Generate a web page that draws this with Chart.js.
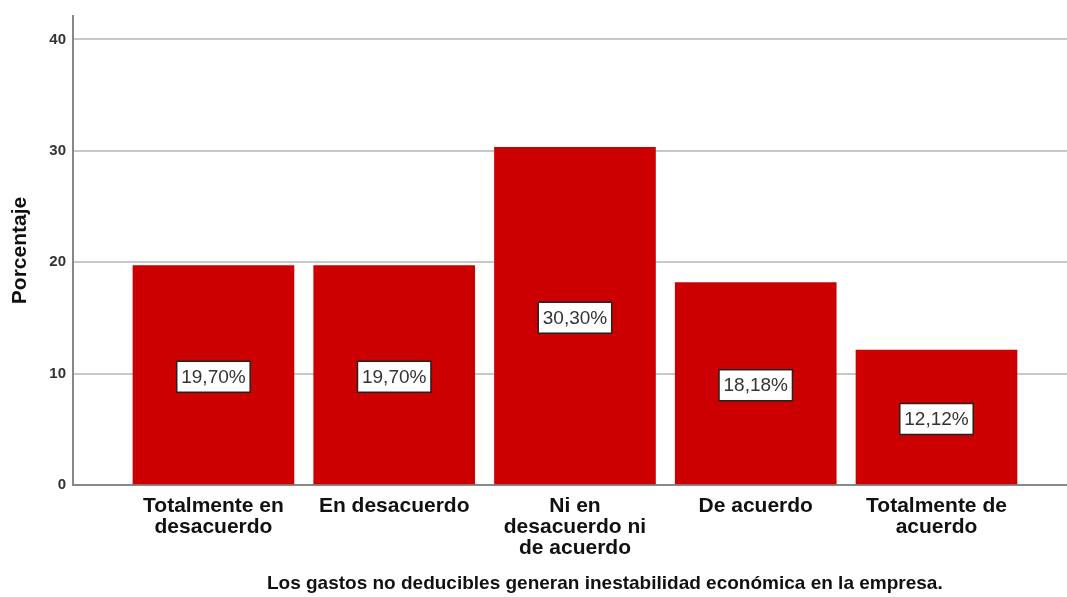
<!DOCTYPE html>
<html>
<head>
<meta charset="utf-8">
<script src="https://cdn.jsdelivr.net/npm/chart.js@4"></script>
<style>
  body { margin: 0; background: #fff; }
  #wrap { width: 1067px; height: 597px; }
</style>
</head>
<body>
<div id="wrap"><canvas id="grafico" width="1067" height="597"></canvas></div>
<script>
// categorias do eixo x (cada uma quebrada em linhas)
const categorias = [
  ['Totalmente en', 'desacuerdo'],
  ['En desacuerdo'],
  ['Ni en', 'desacuerdo ni', 'de acuerdo'],
  ['De acuerdo'],
  ['Totalmente de', 'acuerdo']
];
// porcentagem de cada resposta
const porcentajes = [19.70, 19.70, 30.30, 18.18, 12.12];
const ticksY = [0, 10, 20, 30, 40];
const tituloX = 'Los gastos no deducibles generan inestabilidad económica en la empresa.';

const fonte = "'Liberation Sans', Arial, sans-serif";

// rótulo branco com borda no meio de cada barra + título do eixo x
const rotulos = {
  id: 'rotulos',
  afterDatasetsDraw(chart) {
    const ctx = chart.ctx;
    const meta = chart.getDatasetMeta(0);
    ctx.save();
    ctx.font = '19px ' + fonte;
    ctx.textAlign = 'center';
    ctx.textBaseline = 'middle';
    meta.data.forEach(function(barra, i) {
      const txt = porcentajes[i].toFixed(2).replace('.', ',') + '%';
      const meio = (barra.y + barra.base) / 2;
      const w = ctx.measureText(txt).width + 9;
      const h = 31;
      ctx.fillStyle = '#ffffff';
      ctx.fillRect(barra.x - w / 2, meio - h / 2 + 2, w, h);
      ctx.strokeStyle = '#222';
      ctx.lineWidth = 1.5;
      ctx.strokeRect(barra.x - w / 2, meio - h / 2 + 2, w, h);
      ctx.fillStyle = '#333';
      ctx.fillText(txt, barra.x, meio + 3);
    });
    // título do eixo x, um pouco deslocado para a direita
    const area = chart.chartArea;
    ctx.font = 'bold 19px ' + fonte;
    ctx.fillStyle = '#111';
    ctx.fillText(tituloX, area.left + (area.right - area.left) * 0.535, 584);
    ctx.restore();
  }
};

let grafico = new Chart(document.getElementById('grafico'), {
  type: 'bar',
  data: {
    datasets: [{
      data: porcentajes.map(function(v, i) { return { x: i + 1, y: v }; }),
      backgroundColor: '#cc0000',
      barThickness: 161
    }]
  },
  options: {
    responsive: false,
    animation: false,
    layout: { padding: { top: 14, right: 0, left: 0, bottom: 0 } },
    plugins: { legend: { display: false }, tooltip: { enabled: false } },
    scales: {
      x: {
        type: 'linear',
        min: 0.223,
        max: 5.722,
        bounds: 'data',
        offset: false,
        afterBuildTicks: function(axis) {
          axis.ticks = categorias.map(function(c, i) { return { value: i + 1 }; });
        },
        afterFit: function(scale) { scale.height = 112; },
        grid: { display: false, drawTicks: false },
        border: { color: '#888', width: 2 },
        ticks: {
          autoSkip: false,
          maxRotation: 0,
          padding: 11,
          color: '#111',
          font: { family: fonte, size: 21, weight: 'bold', lineHeight: 1.0 },
          callback: function(v) { return categorias[v - 1]; }
        }
      },
      y: {
        min: 0,
        max: 42.1,
        afterBuildTicks: function(axis) {
          axis.ticks = ticksY.map(function(v) { return { value: v }; });
        },
        afterFit: function(scale) { scale.width = 73; },
        grid: { color: '#c8c8c8', lineWidth: 2, drawTicks: false },
        border: { color: '#888', width: 2 },
        ticks: {
          padding: 7,
          color: '#333',
          font: { family: fonte, size: 15, weight: 'bold' }
        },
        title: {
          display: true,
          text: 'Porcentaje',
          color: '#111',
          font: { family: fonte, size: 21, weight: 'bold' },
          padding: { top: 8, bottom: 0 }
        }
      }
    }
  },
  plugins: [rotulos]
});
</script>
</body>
</html>
